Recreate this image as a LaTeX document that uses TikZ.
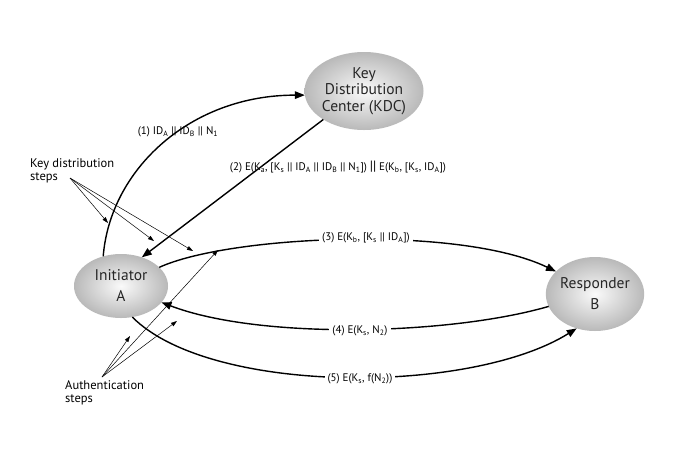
\documentclass[tikz,border=0pt]{standalone}
\usepackage{fontspec}
\setmainfont{PT Sans}
\usetikzlibrary{shapes.geometric,arrows.meta}
\newcommand{\lsub}[1]{\textsubscript{#1}}
\begin{document}
\begin{tikzpicture}[x=1pt,y=-1pt,
  party/.style={ellipse, shading=radial, inner color=gray!4, outer color=gray!55,
    align=center, font=\fontsize{15.5}{21}\selectfont, inner sep=0pt, outer sep=0pt,
    text=black!85},
  msg/.style={line width=1.4pt, -{Triangle[length=10pt,width=7.5pt]}},
  pointer/.style={line width=0.5pt, -{Triangle[length=6pt,width=4pt]}},
  lbl/.style={font=\fontsize{11}{12}\selectfont, inner sep=1.5pt},
  cut/.style={lbl, fill=white, inner sep=3pt},
  note/.style={font=\fontsize{12.5}{13.5}\selectfont, align=left, inner sep=0pt}
]
\useasboundingbox (0,0) rectangle (688,459);
\fill[white] (0,0) rectangle (688,459);

% the three parties
\node[party, minimum width=112pt, minimum height=78pt,
  font=\fontsize{15.5}{16.5}\selectfont] (kdc) at (364,91)
  {Key\\Distribution\\Center (KDC)};
\node[party, minimum width=94pt, minimum height=64pt] (ini) at (121,286)
  {Initiator\\A};
\node[party, minimum width=96pt, minimum height=74pt] (resp) at (595,294)
  {Responder\\B};

% key distribution messages
\draw[msg] (ini.121) .. controls (110,170) and (190,95) .. (kdc.184);
\node[lbl] (m1) at (178,132) {(1) ID\lsub{A} || ID\lsub{B} || N\lsub{1}};
\draw[msg] (kdc.215) -- (ini.54);
\node[lbl] (m2) at (338,167) {(2) E(K\lsub{a}, [K\lsub{s} || ID\lsub{A} || ID\lsub{B} || N\lsub{1}]) {\fontsize{13.5}{13.5}\selectfont||} E(K\lsub{b}, [K\lsub{s}, ID\lsub{A}])};

% authentication messages
\draw[msg] (ini.26) .. controls (230,235) and (460,225) .. (resp.150);
\node[cut] (m3) at (366,238) {(3) E(K\lsub{b}, [K\lsub{s} || ID\lsub{A}])};
\draw[msg] (resp.195) .. controls (450,335) and (260,340) .. (ini.-22);
\node[cut] (m4) at (360,331) {(4) E(K\lsub{s}, N\lsub{2})};
\draw[msg] (ini.-70) .. controls (210,395) and (470,395) .. (resp.-118);
\node[cut] (m5) at (360,379) {(5) E(K\lsub{s}, f(N\lsub{2}))};

% callouts
\node[note, anchor=north west] (kdnote) at (30,158) {Key distribution\\steps};
\coordinate (kdfrom) at (70,178);
\coordinate (kd1) at (108,223);
\coordinate (kd2) at (154,241);
\coordinate (kd3) at (193,251);
\draw[pointer] (kdfrom) -- (kd1);
\draw[pointer] (kdfrom) -- (kd2);
\draw[pointer] (kdfrom) -- (kd3);

\node[note, anchor=north west] (aunote) at (65,380) {Authentication\\steps};
\coordinate (aufrom) at (102,377);
\coordinate (au1) at (130,336);
\coordinate (au2) at (177,321);
\coordinate (au3) at (218,250);
\draw[pointer] (aufrom) -- (au1);
\draw[pointer] (aufrom) -- (au2);
\draw[pointer] (aufrom) -- (au3);
\end{tikzpicture}
\end{document}
